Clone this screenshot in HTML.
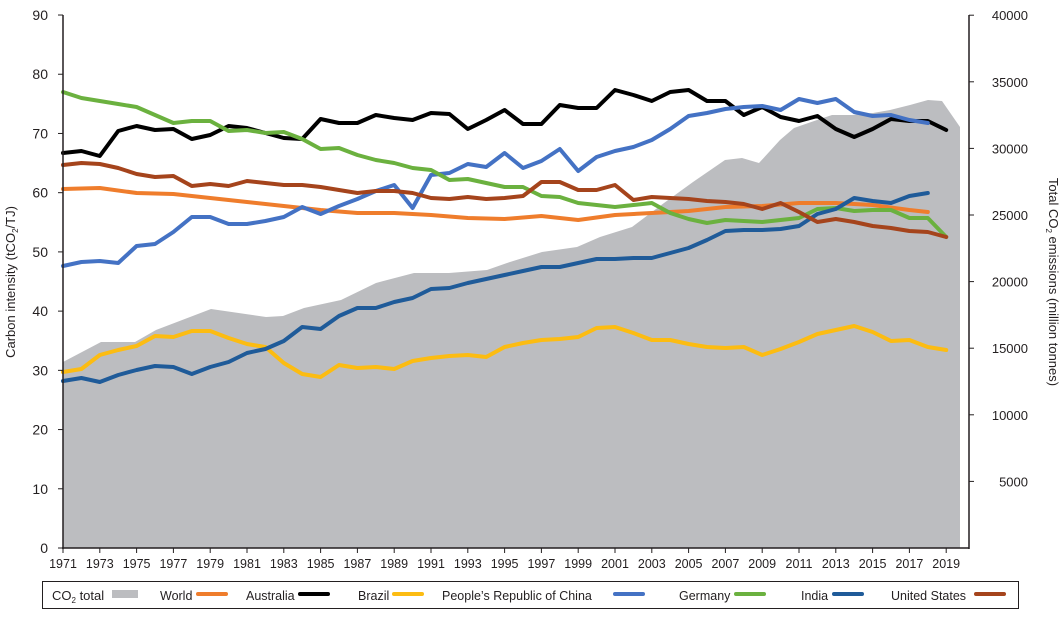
<!DOCTYPE html>
<html><head><meta charset="utf-8"><style>
body{margin:0;background:#fff;font-family:"Liberation Sans",sans-serif}
svg text{font-family:"Liberation Sans",sans-serif;fill:#231f20}
</style></head><body>
<svg id="s" width="1064" height="617" xmlns="http://www.w3.org/2000/svg"></svg>
<script>
const S=document.getElementById('s');let h='';
const X=y=>63+(y-1971)*18.4;
const g=[[63,362],[101,342],[135,342],[156,330],[211,309],[266,317],[283,316],[304,308],[341,300],[376,283],[414,273],[449,273],[487,270],[507,263],[542,252],[577,247],[600,237],[632,227],[664,203],[693,182],[725,160],[742,158],[759,163],[780,140],[794,128],[817,120],[832,115],[852,115],[873,113],[890,110],[910,105],[928,100],[942,101],[960,127]];
let p=`63,548 `;g.forEach(([a,b])=>p+=`${a},${b} `);p+=`960,548`;
h+=`<polygon points="${p}" fill="#bcbdc0"/>`;
const series=[
['#ef7d2c',{1971:189,1973:188,1975:193,1977:194,1979:198,1981:202,1983:206,1985:210,1987:213,1989:213,1991:215,1993:218,1995:219,1997:216,1999:220,2001:215,2003:213,2005:211,2007:207,2009:206,2011:203,2013:203,2015:205,2017:210,2018:212}],
['#000',[153,151,156,131,126,130,129,139,135,126,128,133,138,139,119,123,123,115,118,120,113,114,129,120,110,124,124,105,108,108,90,95,101,92,90,101,101,115,107,117,121,116,129,137,129,119,121,121,130]],
['#fcbc12',[372,369,355,350,346,336,337,331,331,338,344,347,363,374,377,365,368,367,369,361,358,356,355,357,347,343,340,339,337,328,327,333,340,340,344,347,348,347,355,349,342,334,330,326,332,341,340,347,350]],
['#4472c4',[266,262,261,263,246,244,232,217,217,224,224,221,217,207,214,206,199,191,185,208,175,173,164,167,153,168,161,149,171,157,151,147,140,129,116,113,109,107,106,110,99,103,99,112,116,115,120,123]],
['#6bb13f',[92,98,101,104,107,115,123,121,121,131,130,133,132,139,149,148,155,160,163,168,170,180,179,183,187,187,196,197,203,205,207,205,203,213,219,223,220,221,222,220,218,209,208,211,210,210,218,218,237]],
['#1f5b99',[381,378,382,375,370,366,367,374,367,362,353,349,341,327,329,316,308,308,302,298,289,288,283,279,275,271,267,267,263,259,259,258,258,253,248,240,231,230,230,229,226,214,209,198,201,203,196,193]],
['#a5441c',[165,163,164,168,174,177,176,186,184,186,181,183,185,185,187,190,193,191,191,193,198,199,197,199,198,196,182,182,190,190,185,200,197,198,199,201,202,204,209,203,212,222,219,222,226,228,231,232,237]]];
series.forEach(([c,d])=>{let q='';
 if(Array.isArray(d))d.forEach((v,i)=>q+=`${X(1971+i)},${v} `);else for(const k in d)q+=`${X(+k)},${d[k]} `;
 h+=`<polyline points="${q}" fill="none" stroke="${c}" stroke-width="4" stroke-linejoin="round" stroke-linecap="round"/>`;});
h+=`<line x1="63" y1="15" x2="63" y2="549" stroke="#231f20" stroke-width="1.5"/><line x1="62" y1="548" x2="969" y2="548" stroke="#231f20" stroke-width="1.5"/><line x1="969" y1="15" x2="969" y2="549" stroke="#231f20" stroke-width="1.5"/>`;
for(let i=0;i<=9;i++){const y=548-i*59.22;h+=`<line x1="58" y1="${y}" x2="63" y2="${y}" stroke="#231f20"/><text x="48" y="${y+5}" font-size="14" text-anchor="end">${i*10}</text>`;}
for(let i=1;i<=8;i++){const y=548-i*66.6;h+=`<line x1="969" y1="${y}" x2="974" y2="${y}" stroke="#231f20"/><text x="1028" y="${y+5}" font-size="13" text-anchor="end">${i*5000}</text>`;}
for(let y=1971;y<=2019;y+=2){const x=X(y);h+=`<line x1="${x}" y1="548" x2="${x}" y2="553" stroke="#231f20"/><text x="${x}" y="568" font-size="12.5" text-anchor="middle">${y}</text>`;}
h+=`<text transform="translate(15,282) rotate(-90)" font-size="13" text-anchor="middle">Carbon intensity (tCO<tspan font-size="8" dy="3">2</tspan><tspan dy="-3">/TJ)</tspan></text>`;
h+=`<text transform="translate(1049,282) rotate(90)" font-size="13" text-anchor="middle">Total CO<tspan font-size="8" dy="3">2</tspan><tspan dy="-3"> emissions (million tonnes)</tspan></text>`;
h+=`<rect x="42.5" y="581.5" width="976" height="27" fill="#fff" stroke="#231f20" stroke-width="1"/>`;
h+=`<text x="52" y="600" font-size="13">CO<tspan font-size="8" dy="3">2</tspan><tspan dy="-3"> total</tspan></text><rect x="112" y="590" width="26" height="8" fill="#bcbdc0"/>`;
const L=[['World',160,198,'#ef7d2c'],['Australia',246,300,'#000'],['Brazil',358,394,'#fcbc12'],['People\u2019s Republic of China',442,615,'#4472c4'],['Germany',679,736,'#6bb13f'],['India',801,834,'#1f5b99'],['United States',891,976,'#a5441c']];
L.forEach(([t,x,lx,c])=>{h+=`<text x="${x}" y="600" font-size="12.5">${t}</text><line x1="${lx}" y1="594" x2="${lx+28}" y2="594" stroke="${c}" stroke-width="4" stroke-linecap="round"/>`;});
S.innerHTML=h;
</script>
</body></html>
